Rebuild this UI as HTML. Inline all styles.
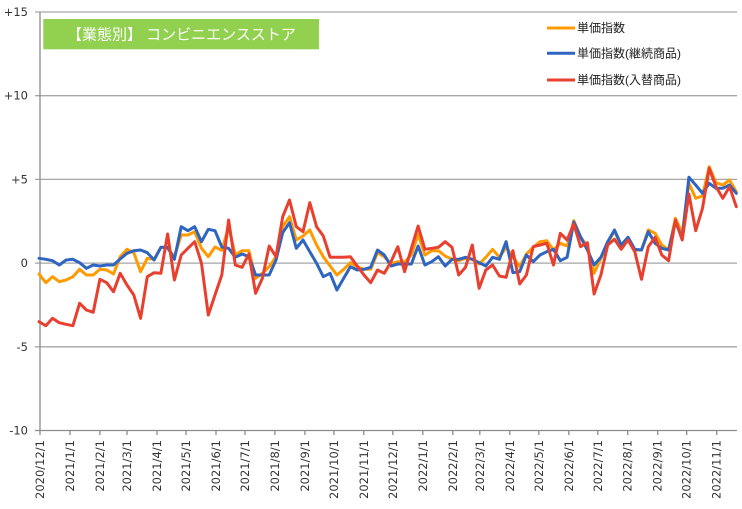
<!DOCTYPE html>
<html><head><meta charset="utf-8"><style>
html,body{margin:0;padding:0;background:#fff;}
svg{display:block;}
</style></head><body>
<svg width="742" height="509" viewBox="0 0 742 509" xmlns="http://www.w3.org/2000/svg">
<rect width="742" height="509" fill="#fff"/>
<g stroke="#a6a6a6" stroke-width="1.3">
<line x1="35" y1="12" x2="737" y2="12"/>
<line x1="35" y1="95.7" x2="737" y2="95.7"/>
<line x1="35" y1="179.4" x2="737" y2="179.4"/>
<line x1="35" y1="263.1" x2="737" y2="263.1"/>
<line x1="35" y1="346.8" x2="737" y2="346.8"/>
</g>
<g stroke="#8c8c8c" stroke-width="1.3">
<line x1="40" y1="12" x2="40" y2="430.5"/>
<line x1="35" y1="430.5" x2="737" y2="430.5"/>
<line x1="40" y1="430.5" x2="40" y2="435"/>
<line x1="70" y1="430.5" x2="70" y2="435"/>
<line x1="99.9" y1="430.5" x2="99.9" y2="435"/>
<line x1="127" y1="430.5" x2="127" y2="435"/>
<line x1="157" y1="430.5" x2="157" y2="435"/>
<line x1="186" y1="430.5" x2="186" y2="435"/>
<line x1="216" y1="430.5" x2="216" y2="435"/>
<line x1="245" y1="430.5" x2="245" y2="435"/>
<line x1="274.9" y1="430.5" x2="274.9" y2="435"/>
<line x1="304.9" y1="430.5" x2="304.9" y2="435"/>
<line x1="333.9" y1="430.5" x2="333.9" y2="435"/>
<line x1="363.8" y1="430.5" x2="363.8" y2="435"/>
<line x1="392.8" y1="430.5" x2="392.8" y2="435"/>
<line x1="422.8" y1="430.5" x2="422.8" y2="435"/>
<line x1="452.8" y1="430.5" x2="452.8" y2="435"/>
<line x1="479.8" y1="430.5" x2="479.8" y2="435"/>
<line x1="509.8" y1="430.5" x2="509.8" y2="435"/>
<line x1="538.8" y1="430.5" x2="538.8" y2="435"/>
<line x1="568.8" y1="430.5" x2="568.8" y2="435"/>
<line x1="597.8" y1="430.5" x2="597.8" y2="435"/>
<line x1="627.7" y1="430.5" x2="627.7" y2="435"/>
<line x1="657.7" y1="430.5" x2="657.7" y2="435"/>
<line x1="686.7" y1="430.5" x2="686.7" y2="435"/>
<line x1="716.7" y1="430.5" x2="716.7" y2="435"/>
</g>
<g font-family="'DejaVu Sans', 'Liberation Sans', sans-serif" font-size="11.5" fill="#333" text-anchor="end" dominant-baseline="central">
<text x="28" y="12">+15</text>
<text x="28" y="95.7">+10</text>
<text x="28" y="179.4">+5</text>
<text x="28" y="263.1">0</text>
<text x="28" y="346.8">-5</text>
<text x="28" y="430.5">-10</text>
</g>
<g font-family="'DejaVu Sans', 'Liberation Sans', sans-serif" font-size="11.5" fill="#333" text-anchor="end" dominant-baseline="central">
<text transform="translate(40,440) rotate(-90)">2020/12/1</text>
<text transform="translate(70,440) rotate(-90)">2021/1/1</text>
<text transform="translate(99.9,440) rotate(-90)">2021/2/1</text>
<text transform="translate(127,440) rotate(-90)">2021/3/1</text>
<text transform="translate(157,440) rotate(-90)">2021/4/1</text>
<text transform="translate(186,440) rotate(-90)">2021/5/1</text>
<text transform="translate(216,440) rotate(-90)">2021/6/1</text>
<text transform="translate(245,440) rotate(-90)">2021/7/1</text>
<text transform="translate(274.9,440) rotate(-90)">2021/8/1</text>
<text transform="translate(304.9,440) rotate(-90)">2021/9/1</text>
<text transform="translate(333.9,440) rotate(-90)">2021/10/1</text>
<text transform="translate(363.8,440) rotate(-90)">2021/11/1</text>
<text transform="translate(392.8,440) rotate(-90)">2021/12/1</text>
<text transform="translate(422.8,440) rotate(-90)">2022/1/1</text>
<text transform="translate(452.8,440) rotate(-90)">2022/2/1</text>
<text transform="translate(479.8,440) rotate(-90)">2022/3/1</text>
<text transform="translate(509.8,440) rotate(-90)">2022/4/1</text>
<text transform="translate(538.8,440) rotate(-90)">2022/5/1</text>
<text transform="translate(568.8,440) rotate(-90)">2022/6/1</text>
<text transform="translate(597.8,440) rotate(-90)">2022/7/1</text>
<text transform="translate(627.7,440) rotate(-90)">2022/8/1</text>
<text transform="translate(657.7,440) rotate(-90)">2022/9/1</text>
<text transform="translate(686.7,440) rotate(-90)">2022/10/1</text>
<text transform="translate(716.7,440) rotate(-90)">2022/11/1</text>
</g>
<g fill="none" stroke-width="3" stroke-linejoin="round" stroke-linecap="round">
<polyline stroke="#FF9A00" points="39.0,274 45.8,282.7 52.5,276.7 59.3,281.7 66.1,280 72.9,276.7 79.6,269.3 86.4,275 93.2,275 99.9,269.3 106.7,270 113.5,274 120.2,256.7 127.0,249.3 133.8,252.7 140.6,271.7 147.3,258.3 154.1,259.3 160.9,247.3 167.6,248.3 174.4,256.7 181.2,235 187.9,235 194.7,231.7 201.5,248.3 208.3,256.7 215.0,247 221.8,250.3 228.6,226.7 235.3,255 242.1,250.7 248.9,250.7 255.6,278.3 262.4,273.3 269.2,266.7 276.0,256.7 282.7,226.7 289.5,216.7 296.3,240 303.0,236 309.8,230 316.6,245 323.3,256.7 330.1,266 336.9,275 343.7,269.3 350.4,262.7 357.2,266.7 364.0,269.3 370.7,269.3 377.5,252.7 384.3,256.7 391.0,264 397.8,261.7 404.6,262 411.4,255 418.1,234 424.9,255 431.7,250.7 438.4,250.7 445.2,256 452.0,259.3 458.7,260.7 465.5,258.3 472.3,259.3 479.1,264 485.8,257.3 492.6,249.3 499.4,257.3 506.1,247.3 512.9,256.7 519.7,266.7 526.4,254 533.2,247.3 540.0,241.7 546.8,240.7 553.5,250 560.3,243.3 567.1,246 573.8,220.7 580.6,236.7 587.4,246.7 594.1,273.3 600.9,258.3 607.7,243.3 614.5,230.7 621.2,246.7 628.0,237.3 634.8,250 641.5,250 648.3,230 655.1,233.3 661.8,245 668.6,250 675.4,218.3 682.2,233.3 688.9,183.3 695.7,198.3 702.5,196 709.2,166.7 716.0,182.7 722.8,185 729.5,180 736.3,191.7"/>
<polyline stroke="#2E65C1" points="39.0,258.3 45.8,259.3 52.5,260.7 59.3,265 66.1,260 72.9,259.3 79.6,262.7 86.4,268.3 93.2,265 99.9,266 106.7,265 113.5,265 120.2,259 127.0,253.3 133.8,250.7 140.6,250 147.3,252.7 154.1,260 160.9,247.3 167.6,247.3 174.4,259.3 181.2,226.7 187.9,230.7 194.7,226.7 201.5,241.7 208.3,229.3 215.0,230.7 221.8,247 228.6,248.3 235.3,257.3 242.1,254 248.9,256.7 255.6,275 262.4,275 269.2,275 276.0,260 282.7,232.7 289.5,222.7 296.3,248.3 303.0,240 309.8,251.7 316.6,263.3 323.3,276.7 330.1,273.3 336.9,290 343.7,278.3 350.4,266.7 357.2,270 364.0,269.3 370.7,267.3 377.5,250 384.3,255 391.0,266 397.8,264 404.6,264 411.4,264 418.1,246 424.9,265 431.7,261.7 438.4,256.7 445.2,266 452.0,259.3 458.7,259.3 465.5,257.3 472.3,259.3 479.1,262.7 485.8,266 492.6,257.3 499.4,259.3 506.1,241.7 512.9,272.7 519.7,271.7 526.4,255 533.2,261.7 540.0,255 546.8,251.7 553.5,249.3 560.3,260.7 567.1,257.3 573.8,222 580.6,237 587.4,250 594.1,265 600.9,257.3 607.7,241.7 614.5,230 621.2,245 628.0,237.3 634.8,249.3 641.5,250 648.3,231.7 655.1,243.3 661.8,248.3 668.6,250 675.4,221.7 682.2,238.3 688.9,177.3 695.7,185 702.5,193.3 709.2,183.3 716.0,188.3 722.8,188.3 729.5,185 736.3,193.3"/>
<polyline stroke="#E8402F" points="39.0,321.7 45.8,325.7 52.5,318.3 59.3,322.7 66.1,324.3 72.9,325.7 79.6,303.3 86.4,310 93.2,312.3 99.9,279.3 106.7,282.7 113.5,291.7 120.2,273.3 127.0,285 133.8,295 140.6,318.3 147.3,276.7 154.1,272.7 160.9,273.3 167.6,234 174.4,280 181.2,255 187.9,248.3 194.7,241.7 201.5,263.3 208.3,315 215.0,295 221.8,275 228.6,220 235.3,265 242.1,267.3 248.9,254 255.6,293.3 262.4,278.3 269.2,246 276.0,256.7 282.7,216.7 289.5,200 296.3,226.7 303.0,231.7 309.8,202.7 316.6,226.7 323.3,236 330.1,257.3 336.9,257.3 343.7,257.3 350.4,256.7 357.2,266 364.0,275 370.7,282.7 377.5,270 384.3,273.3 391.0,261.7 397.8,246.7 404.6,271.7 411.4,248.3 418.1,226 424.9,249.3 431.7,248.3 438.4,247.3 445.2,241.7 452.0,247.3 458.7,275 465.5,267.3 472.3,245 479.1,288.3 485.8,270 492.6,265 499.4,276 506.1,277.3 512.9,250.7 519.7,284 526.4,275 533.2,246.7 540.0,245 546.8,243.3 553.5,265 560.3,233.3 567.1,240 573.8,224 580.6,246.7 587.4,242.7 594.1,294 600.9,275 607.7,245 614.5,239.3 621.2,249.3 628.0,240 634.8,251.7 641.5,279.3 648.3,246.7 655.1,237.3 661.8,255 668.6,260.7 675.4,220 682.2,240 688.9,194 695.7,230.7 702.5,208.3 709.2,168.3 716.0,186.7 722.8,198.3 729.5,186.7 736.3,206.7"/>
</g>
<g stroke-width="3">
<line x1="547" y1="28" x2="575" y2="28" stroke="#FF9A00"/>
<line x1="547" y1="53.3" x2="575" y2="53.3" stroke="#2E65C1"/>
<line x1="547" y1="80" x2="575" y2="80" stroke="#E8402F"/>
</g>
<g font-family="'Liberation Sans', 'Noto Sans CJK JP', sans-serif" font-size="12" fill="#222" dominant-baseline="central">
<text x="577" y="28">単価指数</text>
<text x="577" y="53.3">単価指数(継続商品)</text>
<text x="577" y="80">単価指数(入替商品)</text>
</g>
<rect x="43.3" y="19" width="275.7" height="30.3" fill="#92D050"/>
<text x="67" y="39.5" font-family="'Liberation Sans', 'Noto Sans CJK JP', sans-serif" font-size="15" fill="#fff">【業態別】 コンビニエンスストア</text>
</svg>
</body></html>
